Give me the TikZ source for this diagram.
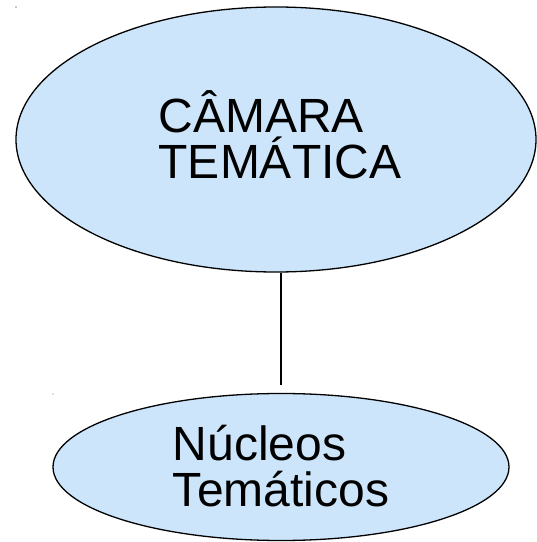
\documentclass[tikz,border=0pt]{standalone}
\usepackage{fontspec}
\setmainfont{Liberation Sans}
\usetikzlibrary{shapes.geometric}
\definecolor{bubble}{HTML}{CCE5FB}
\tikzset{
  bubblenode/.style={ellipse, draw=black, line width=1.3pt, fill=bubble, inner sep=0pt},
  bubbletext/.style={inner sep=0pt, align=left, font=\fontsize{48}{46}\selectfont},
  link/.style={draw=black, line width=1.1pt},
  speck/.style={fill=black!45}
}
\begin{document}
\begin{tikzpicture}[x=1pt,y=1pt]
\useasboundingbox (0,0) rectangle (537,542);
\node[bubblenode, minimum width=520pt, minimum height=265pt] (camara) at (276,402.5) {};
\node[bubbletext] (camaratext) at ([shift={(4,5)}]camara.center) {CÂMARA\\TEMÁTICA};
\node[bubblenode, minimum width=456pt, minimum height=147pt] (nucleos) at (281,75) {};
\node[bubbletext] (nucleostext) at ([shift={(0,1)}]nucleos.center) {Núcleos\\Temáticos};
\coordinate (linetop) at (nucleos.north |- camara.south);
\coordinate (lineend) at (281,157);
\draw[link] (linetop) -- (lineend);
\fill[speck] (16,535) circle (0.8pt);
\fill[speck] (53,148) circle (0.6pt);
\end{tikzpicture}
\end{document}
